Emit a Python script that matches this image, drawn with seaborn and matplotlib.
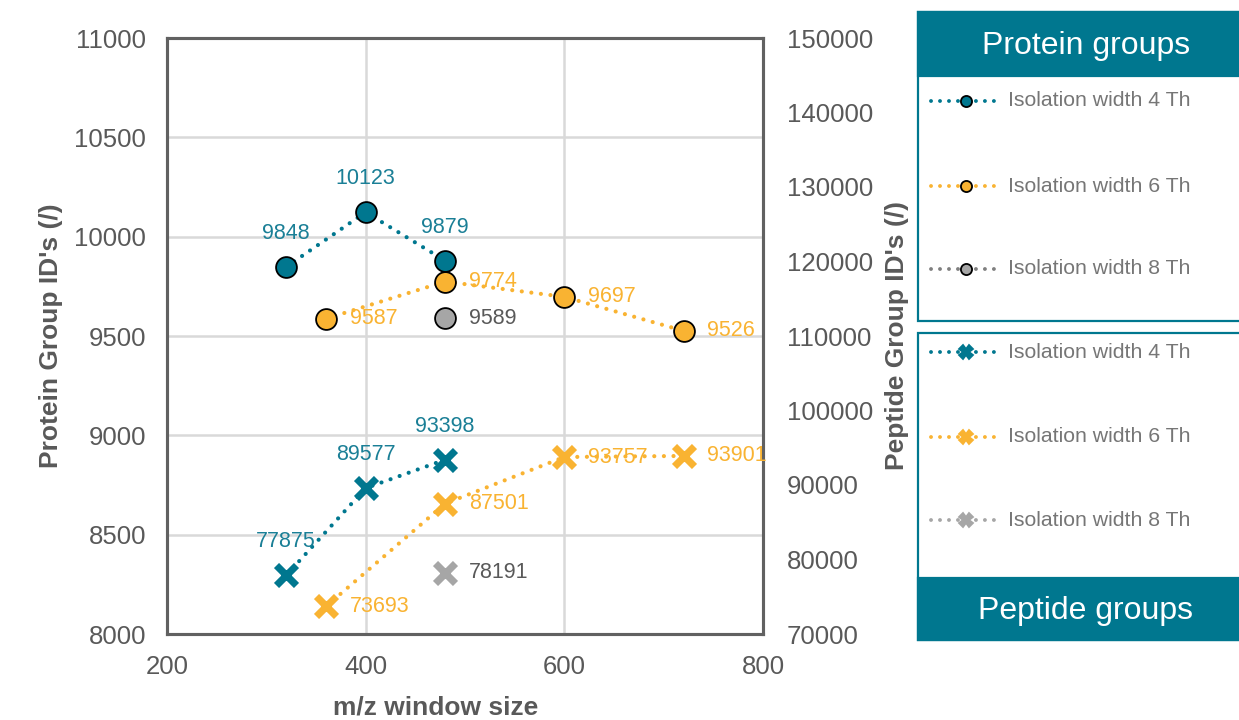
import matplotlib
matplotlib.use("Agg")
import matplotlib.pyplot as plt
from matplotlib.patches import Rectangle
from matplotlib.lines import Line2D
import seaborn as sns

# ---- data -------------------------------------------------------------
prot_4_x = [320, 400, 480]
prot_4_y = [9848, 10123, 9879]
prot_6_x = [360, 480, 600, 720]
prot_6_y = [9587, 9774, 9697, 9526]
prot_8_x = [480]
prot_8_y = [9589]

pep_4_x = [320, 400, 480]
pep_4_y = [77875, 89577, 93398]
pep_6_x = [360, 480, 600, 720]
pep_6_y = [73693, 87501, 93757, 93901]
pep_8_x = [480]
pep_8_y = [78191]

series_names = ["Isolation width 4 Th", "Isolation width 6 Th", "Isolation width 8 Th"]
left_ticks = [8000, 8500, 9000, 9500, 10000, 10500, 11000]
right_ticks = [70000, 80000, 90000, 100000, 110000, 120000, 130000, 140000, 150000]
x_ticks = [200, 400, 600, 800]

# ---- style ------------------------------------------------------------
TEAL = "#00778f"
TEAL_TXT = "#1a7f96"
ORANGE = "#f9b332"
GRAY = "#a6a6a6"
DARKGRAY = "#7f7f7f"
TXT = "#595959"
LEGTXT = "#767676"

sns.set_theme(style="white")
plt.rcParams["font.family"] = ["Liberation Sans", "DejaVu Sans"]

W, H = 1239, 720
fig = plt.figure(figsize=(W / 100, H / 100), dpi=100)
ax = fig.add_axes([167 / W, 1 - 634 / H, (763 - 167) / W, (634 - 38) / H])
ax2 = ax.twinx()

DOT = (0, (0.01, 2.3))
line_kw = dict(linestyle=DOT, linewidth=3.0, dash_capstyle="round", legend=False)
circ_kw = dict(marker="o", markersize=15, markeredgecolor="black", markeredgewidth=1.3)
x_kw = dict(marker="x", markersize=14.5, markeredgewidth=5.2)

# protein groups (left axis)
sns.lineplot(x=prot_4_x, y=prot_4_y, ax=ax, color=TEAL, markerfacecolor=TEAL, **line_kw, **circ_kw)
sns.lineplot(x=prot_6_x, y=prot_6_y, ax=ax, color=ORANGE, markerfacecolor=ORANGE, **line_kw, **circ_kw)
sns.lineplot(x=prot_8_x, y=prot_8_y, ax=ax, color=DARKGRAY, markerfacecolor=GRAY, **line_kw, **circ_kw)

# peptide groups (right axis)
sns.lineplot(x=pep_4_x, y=pep_4_y, ax=ax2, color=TEAL, markeredgecolor=TEAL, **line_kw, **x_kw)
sns.lineplot(x=pep_6_x, y=pep_6_y, ax=ax2, color=ORANGE, markeredgecolor=ORANGE, **line_kw, **x_kw)
sns.lineplot(x=pep_8_x, y=pep_8_y, ax=ax2, color=GRAY, markeredgecolor=GRAY, **line_kw, **x_kw)

# value labels
def label_above(a, xs, ys, color):
    for xv, yv in zip(xs, ys):
        a.annotate(f"{yv}", (xv, yv), xytext=(0, 24), textcoords="offset points",
                   ha="center", va="center", fontsize=15.5, color=color)

def label_right(a, xs, ys, color):
    for xv, yv in zip(xs, ys):
        a.annotate(f"{yv}", (xv, yv), xytext=(17, 0), textcoords="offset points",
                   ha="left", va="center", fontsize=15.5, color=color)

label_above(ax, prot_4_x, prot_4_y, TEAL_TXT)
label_right(ax, prot_6_x, prot_6_y, ORANGE)
label_right(ax, prot_8_x, prot_8_y, TXT)
label_above(ax2, pep_4_x, pep_4_y, TEAL_TXT)
label_right(ax2, pep_6_x, pep_6_y, ORANGE)
label_right(ax2, pep_8_x, pep_8_y, TXT)

# axes
ax.set_xlim(200, 800)
ax.set_ylim(8000, 11000)
ax2.set_ylim(70000, 150000)
ax.set_xticks(x_ticks)
ax.set_yticks(left_ticks)
ax2.set_yticks(right_ticks)
ax.set_xticklabels([str(v) for v in x_ticks])
ax.set_yticklabels([str(v) for v in left_ticks])
ax2.set_yticklabels([str(v) for v in right_ticks])

ax.grid(True, color="#d9d9d9", linewidth=1.8)
ax.set_axisbelow(True)
ax2.grid(False)
for a in (ax, ax2):
    for s in a.spines.values():
        s.set_color("#616161")
        s.set_linewidth(2.2)
    a.tick_params(length=0, labelsize=18.5, colors=TXT)
ax.tick_params(axis="y", pad=15)
ax.tick_params(axis="x", pad=15)
ax2.tick_params(axis="y", pad=17)

ax.set_xlabel("m/z window size", fontsize=19, fontweight="bold", color=TXT)
ax.xaxis.set_label_coords((436 - 167) / 596, -0.104)
ax.set_ylabel("Protein Group ID's (/)", fontsize=19, fontweight="bold", color=TXT, labelpad=8)
ax2.set_ylabel("Peptide Group ID's (/)", fontsize=19, fontweight="bold", color=TXT, labelpad=9)

# ---- side legend panel ----------------------------------------------
lg = fig.add_axes([0, 0, 1, 1], zorder=5)
lg.set_xlim(0, W)
lg.set_ylim(H, 0)
lg.axis("off")

def panel(y0, y1, hy0, hy1, title):
    lg.add_patch(Rectangle((918, y0), 340, y1 - y0, facecolor="white",
                           edgecolor=TEAL, linewidth=1.6))
    lg.add_patch(Rectangle((918, hy0), 340, hy1 - hy0, facecolor=TEAL,
                           edgecolor=TEAL, linewidth=1.6))
    lg.text(1086, (hy0 + hy1) / 2 + 2, title, ha="center", va="center",
            fontsize=23, color="white")

panel(12, 321, 12, 76, "Protein groups")
panel(333, 640, 578, 640, "Peptide groups")

prot_styles = [(TEAL, TEAL, "o", "black"), (ORANGE, ORANGE, "o", "black"), (DARKGRAY, GRAY, "o", "black")]
pep_styles = [(TEAL, TEAL, "X", TEAL), (ORANGE, ORANGE, "X", ORANGE), (GRAY, GRAY, "X", GRAY)]

def entries(ys, styles):
    for yv, name, (lc, fc, mk, ec) in zip(ys, series_names, styles):
        lg.add_line(Line2D([931, 997], [yv, yv], color=lc, linestyle=DOT, linewidth=2.8,
                           dash_capstyle="round"))
        lg.add_line(Line2D([966], [yv], marker=mk, markersize=8 if mk == "o" else 10,
                           markerfacecolor=fc, markeredgecolor=ec, markeredgewidth=1.3,
                           linestyle="none"))
        lg.text(1008, yv, name, ha="left", va="center", fontsize=15.3, color=LEGTXT)

entries([101, 186, 269], prot_styles)
entries([352, 437, 520], pep_styles)

fig.savefig("out.png", dpi=100)
